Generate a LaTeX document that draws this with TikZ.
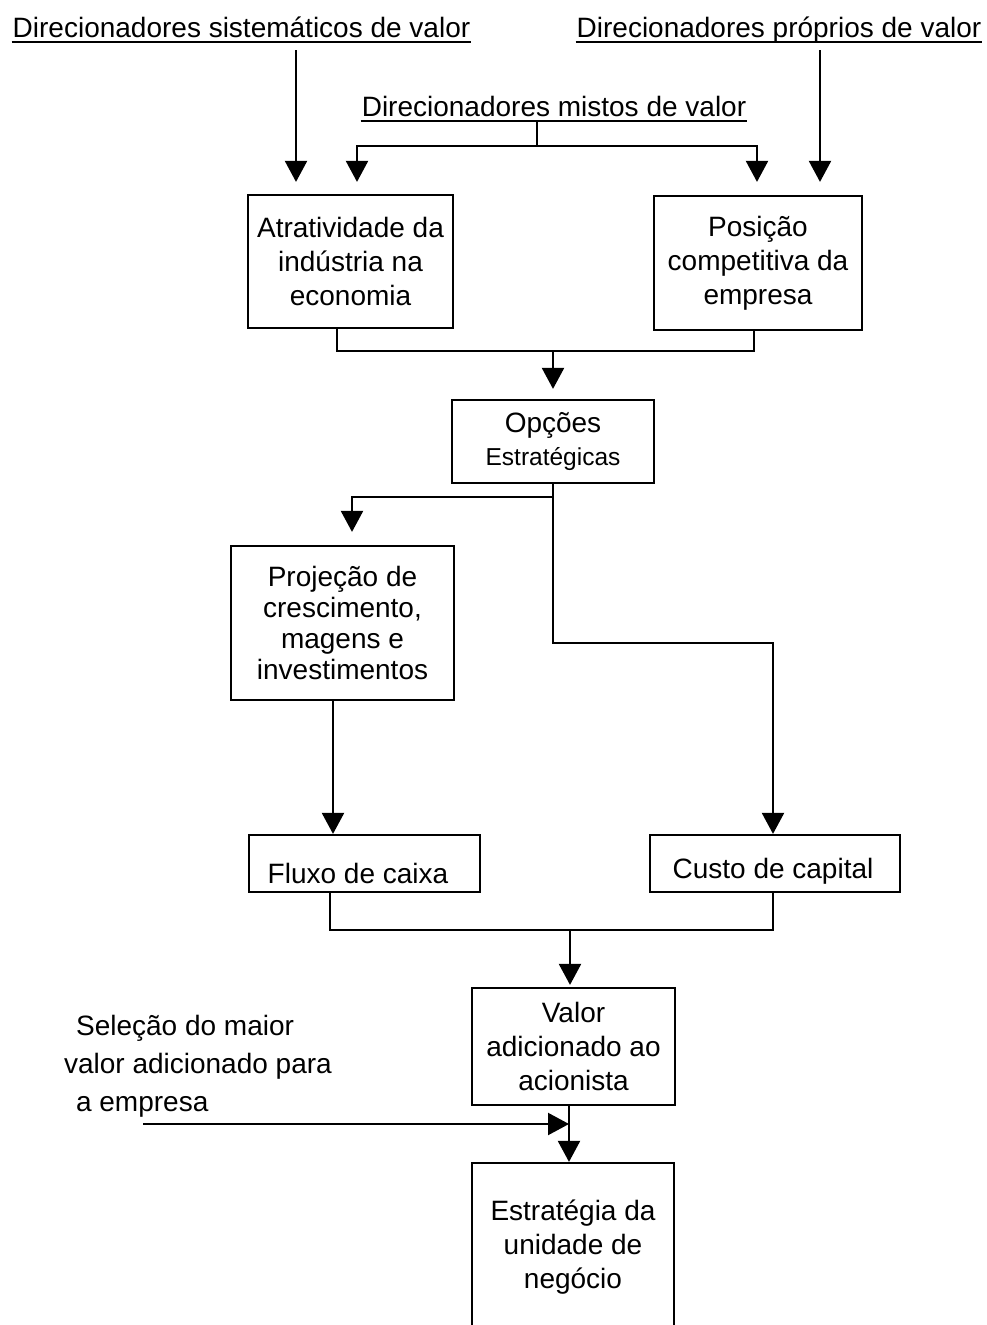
\documentclass[tikz,border=0pt]{standalone}
\usepackage{fontspec}
\setmainfont{Liberation Sans}
\usetikzlibrary{arrows.meta}
\begin{document}
\begin{tikzpicture}[x=1pt,y=-1pt,line width=2.2pt,
  box/.style={draw,line width=2.2pt,inner sep=0pt,align=center,font=\fontsize{28}{34}\selectfont},
  txt/.style={inner sep=0pt,align=center,font=\fontsize{28}{34}\selectfont},
  arr/.style={-{Triangle[width=22pt,length=21pt]}}]
\fill[white] (0,0) rectangle (987,1325);
\useasboundingbox (0,0) rectangle (987,1325);

% value driver headings, underlined
\node[txt,anchor=base] (sys) at (241.5,37) {Direcionadores sistemáticos de valor};
\node[txt,anchor=base] (pro) at (779,37) {Direcionadores próprios de valor};
\node[txt,anchor=base] (mix) at (554,116) {Direcionadores mistos de valor};
\foreach \t in {sys,pro,mix}
  \draw ([yshift=-5pt]\t.base west) -- ([yshift=-5pt]\t.base east);

% boxes
\node[box,minimum width=205pt,minimum height=133pt] (atr) at (350.5,261.5) {Atratividade da\\indústria na\\economia};
\node[box,minimum width=208pt,minimum height=134pt] (pos) at (758,263) {Posição\\competitiva da\\empresa};
\node[box,minimum width=202pt,minimum height=83pt] (opc) at (553,441.5) {Opções\\[-1pt]{\fontsize{24.5}{28}\selectfont Estratégicas}};
\node[box,minimum width=223pt,minimum height=154pt,font=\fontsize{28}{31}\selectfont] (proj) at (342.5,623) {Projeção de\\crescimento,\\magens e\\investimentos};
\node[box,minimum width=231pt,minimum height=57pt] (flx) at (364.5,863.5) {};
\node[txt,anchor=base] (flxt) at (358,883) {Fluxo de caixa};
\node[box,minimum width=250pt,minimum height=57pt] (cst) at (775,863.5) {};
\node[txt,anchor=base] (cstt) at (773,878) {Custo de capital};
\node[box,minimum width=203pt,minimum height=117pt] (val) at (573.5,1046.5) {Valor\\adicionado ao\\acionista};
\node[box,minimum width=202pt,minimum height=168pt] (est) at (573,1247) {Estratégia da\\unidade de\\negócio};
\node[txt,align=left,anchor=north west,font=\fontsize{28}{38}\selectfont] (sel) at (63,1014)
  {\hspace*{12pt}Seleção do maior\\valor adicionado para\\\hspace*{12pt}a empresa};

% connectors
\coordinate (s1) at (296,50);
\draw[arr,shorten >=12pt] (s1) -- (s1 |- atr.north);
\coordinate (p1) at (820,50);
\draw[arr,shorten >=13pt] (p1) -- (p1 |- pos.north);

\coordinate (mj) at (537,146);
\draw ([yshift=-6pt]mix.base -| mj) -- (mj);
\draw[arr,shorten >=12pt] (mj) -| ([xshift=6.5pt]atr.north);
\draw[arr,shorten >=13pt] (mj) -| ([xshift=-1pt]pos.north);

\coordinate (j1) at (553,351);
\draw ([xshift=-13.5pt]atr.south) |- (j1) -| ([xshift=-4pt]pos.south);
\draw[arr,shorten >=10pt] (j1) -- (opc.north);

\coordinate (j2) at (553,497);
\coordinate (j3) at (773,643);
\draw (opc.south) -- (j2);
\draw[arr,shorten >=13pt] (j2) -| ([xshift=9.5pt]proj.north);
\draw[arr] (j2) |- (j3) -- (j3 |- cst.north);

\draw[arr] ([xshift=-9.5pt]proj.south) -- ([xshift=-9.5pt]proj.south |- flx.north);

\coordinate (j4) at (570,930);
\draw ([xshift=-34.5pt]flx.south) |- (j4) -| ([xshift=-2pt]cst.south);
\draw[arr,shorten >=2pt] (j4) -- (j4 |- val.north);

\coordinate (vd) at (569,1105);
\draw[arr] (vd) -- (vd |- est.north);
\coordinate (st) at (143,1124);
\draw[arr] (st) -- (st -| vd);
\end{tikzpicture}
\end{document}
